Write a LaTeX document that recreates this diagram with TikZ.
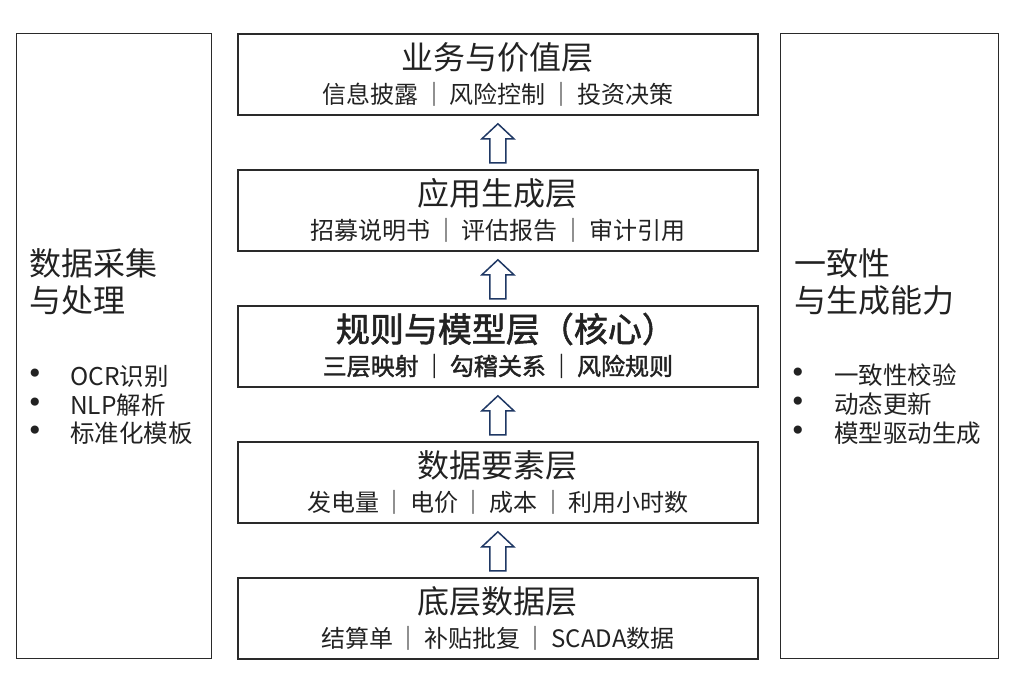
\documentclass[tikz,border=0pt]{standalone}
\usepackage{fontspec}
\setmainfont{Noto Sans CJK SC}
\newfontfamily\semib[FakeBold=1.6]{Noto Sans CJK SC}
\newfontfamily\dotfont{DejaVu Sans}
\usetikzlibrary{calc}
\definecolor{boxline}{HTML}{2A2A2A}
\definecolor{txt}{HTML}{222222}
\definecolor{arrowline}{RGB}{31,56,100}
\newcommand{\sepbar}{\hspace{0.15em}｜\hspace{0.15em}}
\newcommand{\blockup}[2]{%
  \draw[blockarr] ($(#2.south)+(0,8)$) -- ($(#2.south)+(16,23)$) -- ($(#2.south)+(8,23)$)
    -- ($(#1.north)+(8,-6)$) -- ($(#1.north)+(-8,-6)$) -- ($(#2.south)+(-8,23)$)
    -- ($(#2.south)+(-16,23)$) -- cycle;}
\begin{document}
\begin{tikzpicture}[x=1pt,y=-1pt,
  layer/.style={draw=boxline,line width=1.8pt,minimum width=520pt,minimum height=81pt,inner sep=0pt,anchor=north west},
  panel/.style={draw=boxline,line width=1.4pt,inner sep=0pt,anchor=north west},
  ttl/.style={font=\fontsize{32}{36}\selectfont,text=txt,inner sep=0pt},
  sub/.style={font=\fontsize{24}{28}\selectfont,text=txt,inner sep=0pt},
  ptl/.style={font=\fontsize{32}{36}\selectfont,text=txt,inner sep=0pt,anchor=west},
  item/.style={font=\fontsize{24.5}{28}\selectfont,text=txt,inner sep=0pt,anchor=west},
  dot/.style={font=\dotfont\fontsize{28}{30}\selectfont,text=txt,inner sep=0pt},
  blockarr/.style={draw=arrowline,line width=1.5pt,fill=white,line join=miter}
]
\useasboundingbox (0,0) rectangle (1013,684);
\fill[white] (0,0) rectangle (1013,684);

% side panels
\node[panel,minimum width=195pt,minimum height=625pt] (lp) at (16,33) {};
\node[panel,minimum width=218pt,minimum height=625pt] (rp) at (780,33) {};

% layers
\node[layer] (b1) at (237,33) {};
\node[layer] (b2) at (237,169) {};
\node[layer] (b3) at (237,305) {};
\node[layer] (b4) at (237,441) {};
\node[layer] (b5) at (237,577) {};

\node[ttl] (t1) at ($(b1.north)+(0,24)$) {业务与价值层};
\node[sub] (s1) at ($(b1.north)+(0,61)$) {信息披露\sepbar 风险控制\sepbar 投资决策};
\node[ttl] (t2) at ($(b2.north)+(0,24)$) {应用生成层};
\node[sub] (s2) at ($(b2.north)+(0,61)$) {招募说明书\sepbar 评估报告\sepbar 审计引用};
\node[ttl,font=\semib\fontsize{34}{36}\selectfont] (t3) at ($(b3.north)+(8,24)$) {规则与模型层（核心）};
\node[sub,font=\semib\fontsize{24}{28}\selectfont] (s3) at ($(b3.north)+(0,61)$) {三层映射\sepbar 勾稽关系\sepbar 风险规则};
\node[ttl] (t4) at ($(b4.north)+(0,24)$) {数据要素层};
\node[sub] (s4) at ($(b4.north)+(0,61)$) {发电量\sepbar 电价\sepbar 成本\sepbar 利用小时数};
\node[ttl] (t5) at ($(b5.north)+(0,24)$) {底层数据层};
\node[sub] (s5) at ($(b5.north)+(0,61)$) {结算单\sepbar 补贴批复\sepbar SCADA数据};

% arrows
\blockup{b2}{b1}
\blockup{b3}{b2}
\blockup{b4}{b3}
\blockup{b5}{b4}

% left panel text
\node[ptl] (lt1) at (29,263) {数据采集};
\node[ptl] (lt2) at (29,300) {与处理};
\node[dot] (ld1) at (35,376) {•};
\node[dot] (ld2) at (35,405) {•};
\node[dot] (ld3) at (35,433) {•};
\node[item] (li1) at (70,376) {OCR识别};
\node[item] (li2) at (70,405) {NLP解析};
\node[item] (li3) at (70,433) {标准化模板};

% right panel text
\node[ptl] (rt1) at (794,263) {一致性};
\node[ptl] (rt2) at (794,300) {与生成能力};
\node[dot] (rd1) at (798,375) {•};
\node[dot] (rd2) at (798,404) {•};
\node[dot] (rd3) at (798,433) {•};
\node[item] (ri1) at (834,375) {一致性校验};
\node[item] (ri2) at (834,404) {动态更新};
\node[item] (ri3) at (834,433) {模型驱动生成};
\end{tikzpicture}
\end{document}
